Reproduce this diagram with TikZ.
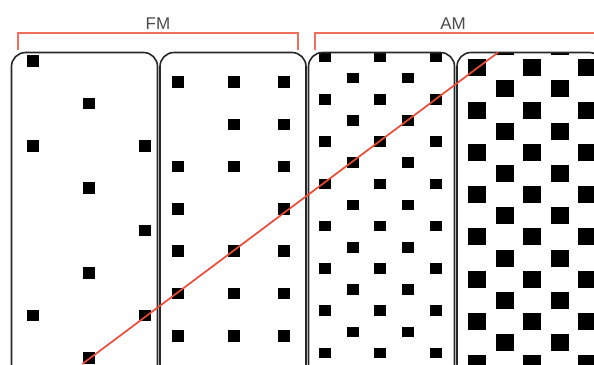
\documentclass[tikz,border=0pt]{standalone}
\usepackage{fontspec}
\setmainfont{Liberation Sans}
\definecolor{brk}{RGB}{240,110,90}
\definecolor{redl}{RGB}{236,75,55}
\definecolor{lbl}{RGB}{75,75,75}
\definecolor{frm}{RGB}{40,40,40}
\begin{document}
\begin{tikzpicture}[x=1pt,y=-1pt,
  panel/.style={draw=frm, line width=1.6pt, rounded corners=14pt},
  bracket/.style={draw=brk, line width=2pt},
  lab/.style={text=lbl, font=\fontsize{17}{17}\selectfont, inner sep=0pt},
  redline/.style={draw=redl, line width=1.7pt}]
\useasboundingbox (0,0) rectangle (594,364);

% panel 1 : FM, sparse
\begin{scope}
\clip[rounded corners=14pt] (11.5,52.5) rectangle (157.5,378);
\foreach \x/\y in {33/61, 89/103.4, 33/145.8, 145/145.8, 89/188.2, 145/230.6, 89/273, 33/315.4, 145/315.4, 89/357.8}
  \fill (\x-6,\y-5.75) rectangle ++(12,11.5);
\end{scope}

% panel 2 : FM, dense
\begin{scope}
\clip[rounded corners=14pt] (160,52.5) rectangle (306,378);
\foreach \k/\cols in {0/{178,234,284}, 1/{234,284}, 2/{178,234,284}, 3/{178,284}, 4/{178,234,284}, 5/{178,234,284}, 6/{178,234,284}}
  \foreach \x in \cols
    \fill (\x-6,82+42.3*\k-5.75) rectangle ++(12,11.5);
\end{scope}

% panel 3 : AM, small dots
\begin{scope}
\clip[rounded corners=14pt] (308.5,52.5) rectangle (454.5,378);
\foreach \k in {0,2,...,14}
  \foreach \x in {325,380,436}
    \fill (\x-5.75,57+21.14*\k-5.25) rectangle ++(11.5,10.5);
\foreach \k in {1,3,...,15}
  \foreach \x in {353,408}
    \fill (\x-5.75,57+21.14*\k-5.25) rectangle ++(11.5,10.5);
\end{scope}

% panel 4 : AM, large dots
\begin{scope}
\clip[rounded corners=14pt] (457,52.5) rectangle (603,378);
\foreach \k in {0,2,...,16}
  \foreach \x in {505,560}
    \fill (\x-9,46.7+21.14*\k-8.5) rectangle ++(18,17);
\foreach \k in {1,3,...,15}
  \foreach \x in {477,532,587}
    \fill (\x-9,46.7+21.14*\k-8.5) rectangle ++(18,17);
\end{scope}

% panel frames
\draw[panel] (11.5,52.5) rectangle (157.5,378);
\draw[panel] (160,52.5) rectangle (306,378);
\draw[panel] (308.5,52.5) rectangle (454.5,378);
\draw[panel] (457,52.5) rectangle (603,378);

% brackets
\draw[bracket] (18,50) |- (297.5,33) -- (297.5,50);
\draw[bracket] (315,50) |- (600,33);

% labels
\node[lab] (fm) at (158,23.3) {FM};
\node[lab] (am) at (453,23.3) {AM};

% red line
\coordinate (rA) at (82.3,364);
\coordinate (rB) at (498,52.5);
\draw[redline] (rA) -- (rB);
\end{tikzpicture}
\end{document}
